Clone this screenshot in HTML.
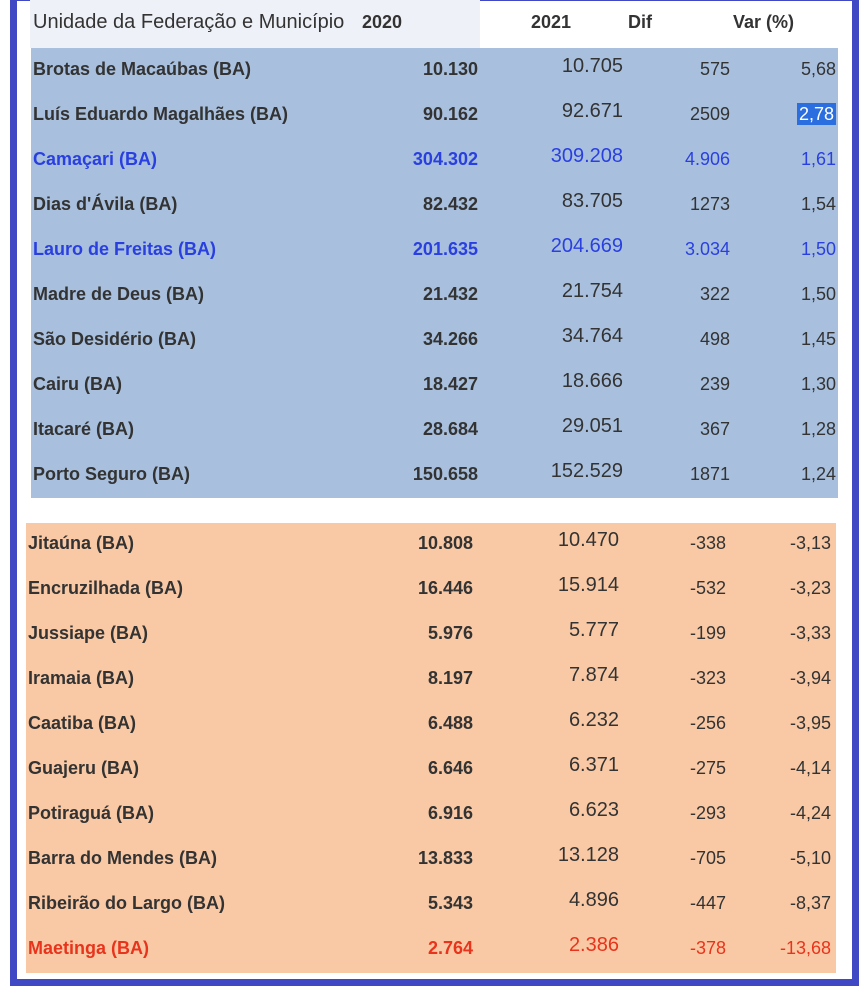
<!DOCTYPE html>
<html><head><meta charset="utf-8"><style>
body{margin:0;width:862px;height:1000px;background:#fff;position:relative;overflow:hidden;font-family:"Liberation Sans",sans-serif;}
.frame{position:absolute;left:10px;top:-6px;width:835px;height:978px;border:7px solid #4048c4;background:#fff;}
.hdr{position:absolute;left:30px;top:0;width:450px;height:48px;background:#eef1f7;}
.blue{position:absolute;left:31px;top:48px;width:807px;height:450px;background:#a8c0de;}
.orange{position:absolute;left:26px;top:523px;width:810px;height:450px;background:#f9c9a5;}
.t{position:absolute;font-size:18px;font-weight:bold;color:#333;white-space:nowrap;line-height:20px;}
.n{font-weight:normal;font-size:20px;}
.r{text-align:right;}
.hl{background:#2a6ee0;color:#fff;padding:1px 2px;}
</style></head><body>
<div class="frame"></div>
<div class="hdr"></div>
<div class="blue"></div>
<div class="orange"></div>
<div class="t" style="left:33px;top:12px;font-weight:normal;font-size:20px;color:#333">Unidade da Federação e Município</div>
<div class="t" style="left:362px;top:12px;">2020</div>
<div class="t" style="left:531px;top:12px;">2021</div>
<div class="t" style="left:628px;top:12px;">Dif</div>
<div class="t" style="left:733px;top:12px;">Var (%)</div>
<div id="rows"></div>
<script>
(function(){
var topRows=[["Brotas de Macaúbas (BA)","10.130","10.705","575","5,68"],
["Luís Eduardo Magalhães (BA)","90.162","92.671","2509","2,78"],
["Camaçari (BA)","304.302","309.208","4.906","1,61"],
["Dias d'Ávila (BA)","82.432","83.705","1273","1,54"],
["Lauro de Freitas (BA)","201.635","204.669","3.034","1,50"],
["Madre de Deus (BA)","21.432","21.754","322","1,50"],
["São Desidério (BA)","34.266","34.764","498","1,45"],
["Cairu (BA)","18.427","18.666","239","1,30"],
["Itacaré (BA)","28.684","29.051","367","1,28"],
["Porto Seguro (BA)","150.658","152.529","1871","1,24"]];
var botRows=[["Jitaúna (BA)","10.808","10.470","-338","-3,13"],
["Encruzilhada (BA)","16.446","15.914","-532","-3,23"],
["Jussiape (BA)","5.976","5.777","-199","-3,33"],
["Iramaia (BA)","8.197","7.874","-323","-3,94"],
["Caatiba (BA)","6.488","6.232","-256","-3,95"],
["Guajeru (BA)","6.646","6.371","-275","-4,14"],
["Potiraguá (BA)","6.916","6.623","-293","-4,24"],
["Barra do Mendes (BA)","13.833","13.128","-705","-5,10"],
["Ribeirão do Largo (BA)","5.343","4.896","-447","-8,37"],
["Maetinga (BA)","2.764","2.386","-378","-13,68"]];
var h="";
function add(rows,isTop,y0,nx,x1,x2,x3,x4,colorFn){
 rows.forEach(function(r,i){
  var y=y0+i*45,c=colorFn(i);
  var st="color:"+c+";";
  h+='<div class="t" style="left:'+nx+'px;top:'+(y-9)+'px;'+st+'">'+r[0]+'</div>';
  h+='<div class="t r" style="right:'+(862-x1)+'px;top:'+(y-9)+'px;'+st+'">'+r[1]+'</div>';
  h+='<div class="t n r" style="right:'+(862-x2)+'px;top:'+(y-12)+'px;'+st+'">'+r[2]+'</div>';
  h+='<div class="t r" style="right:'+(862-x3)+'px;top:'+(y-9)+'px;font-weight:normal;'+st+'">'+r[3]+'</div>';
  var v=r[4]; if(isTop&&i==1) v='<span class="hl">'+v+'</span>';
  h+='<div class="t r" style="right:'+(862-x4)+'px;top:'+(y-9)+'px;font-weight:normal;'+st+'">'+v+'</div>';
 });
}
add(topRows,true,68,33,478,623,730,836,function(i){return (i==2||i==4)?"#2a3fe0":"#333";});
add(botRows,false,542,28,473,619,726,831,function(i){return i==9?"#e8341c":"#333";});
document.getElementById("rows").innerHTML=h;
})();
</script>
</body></html>
